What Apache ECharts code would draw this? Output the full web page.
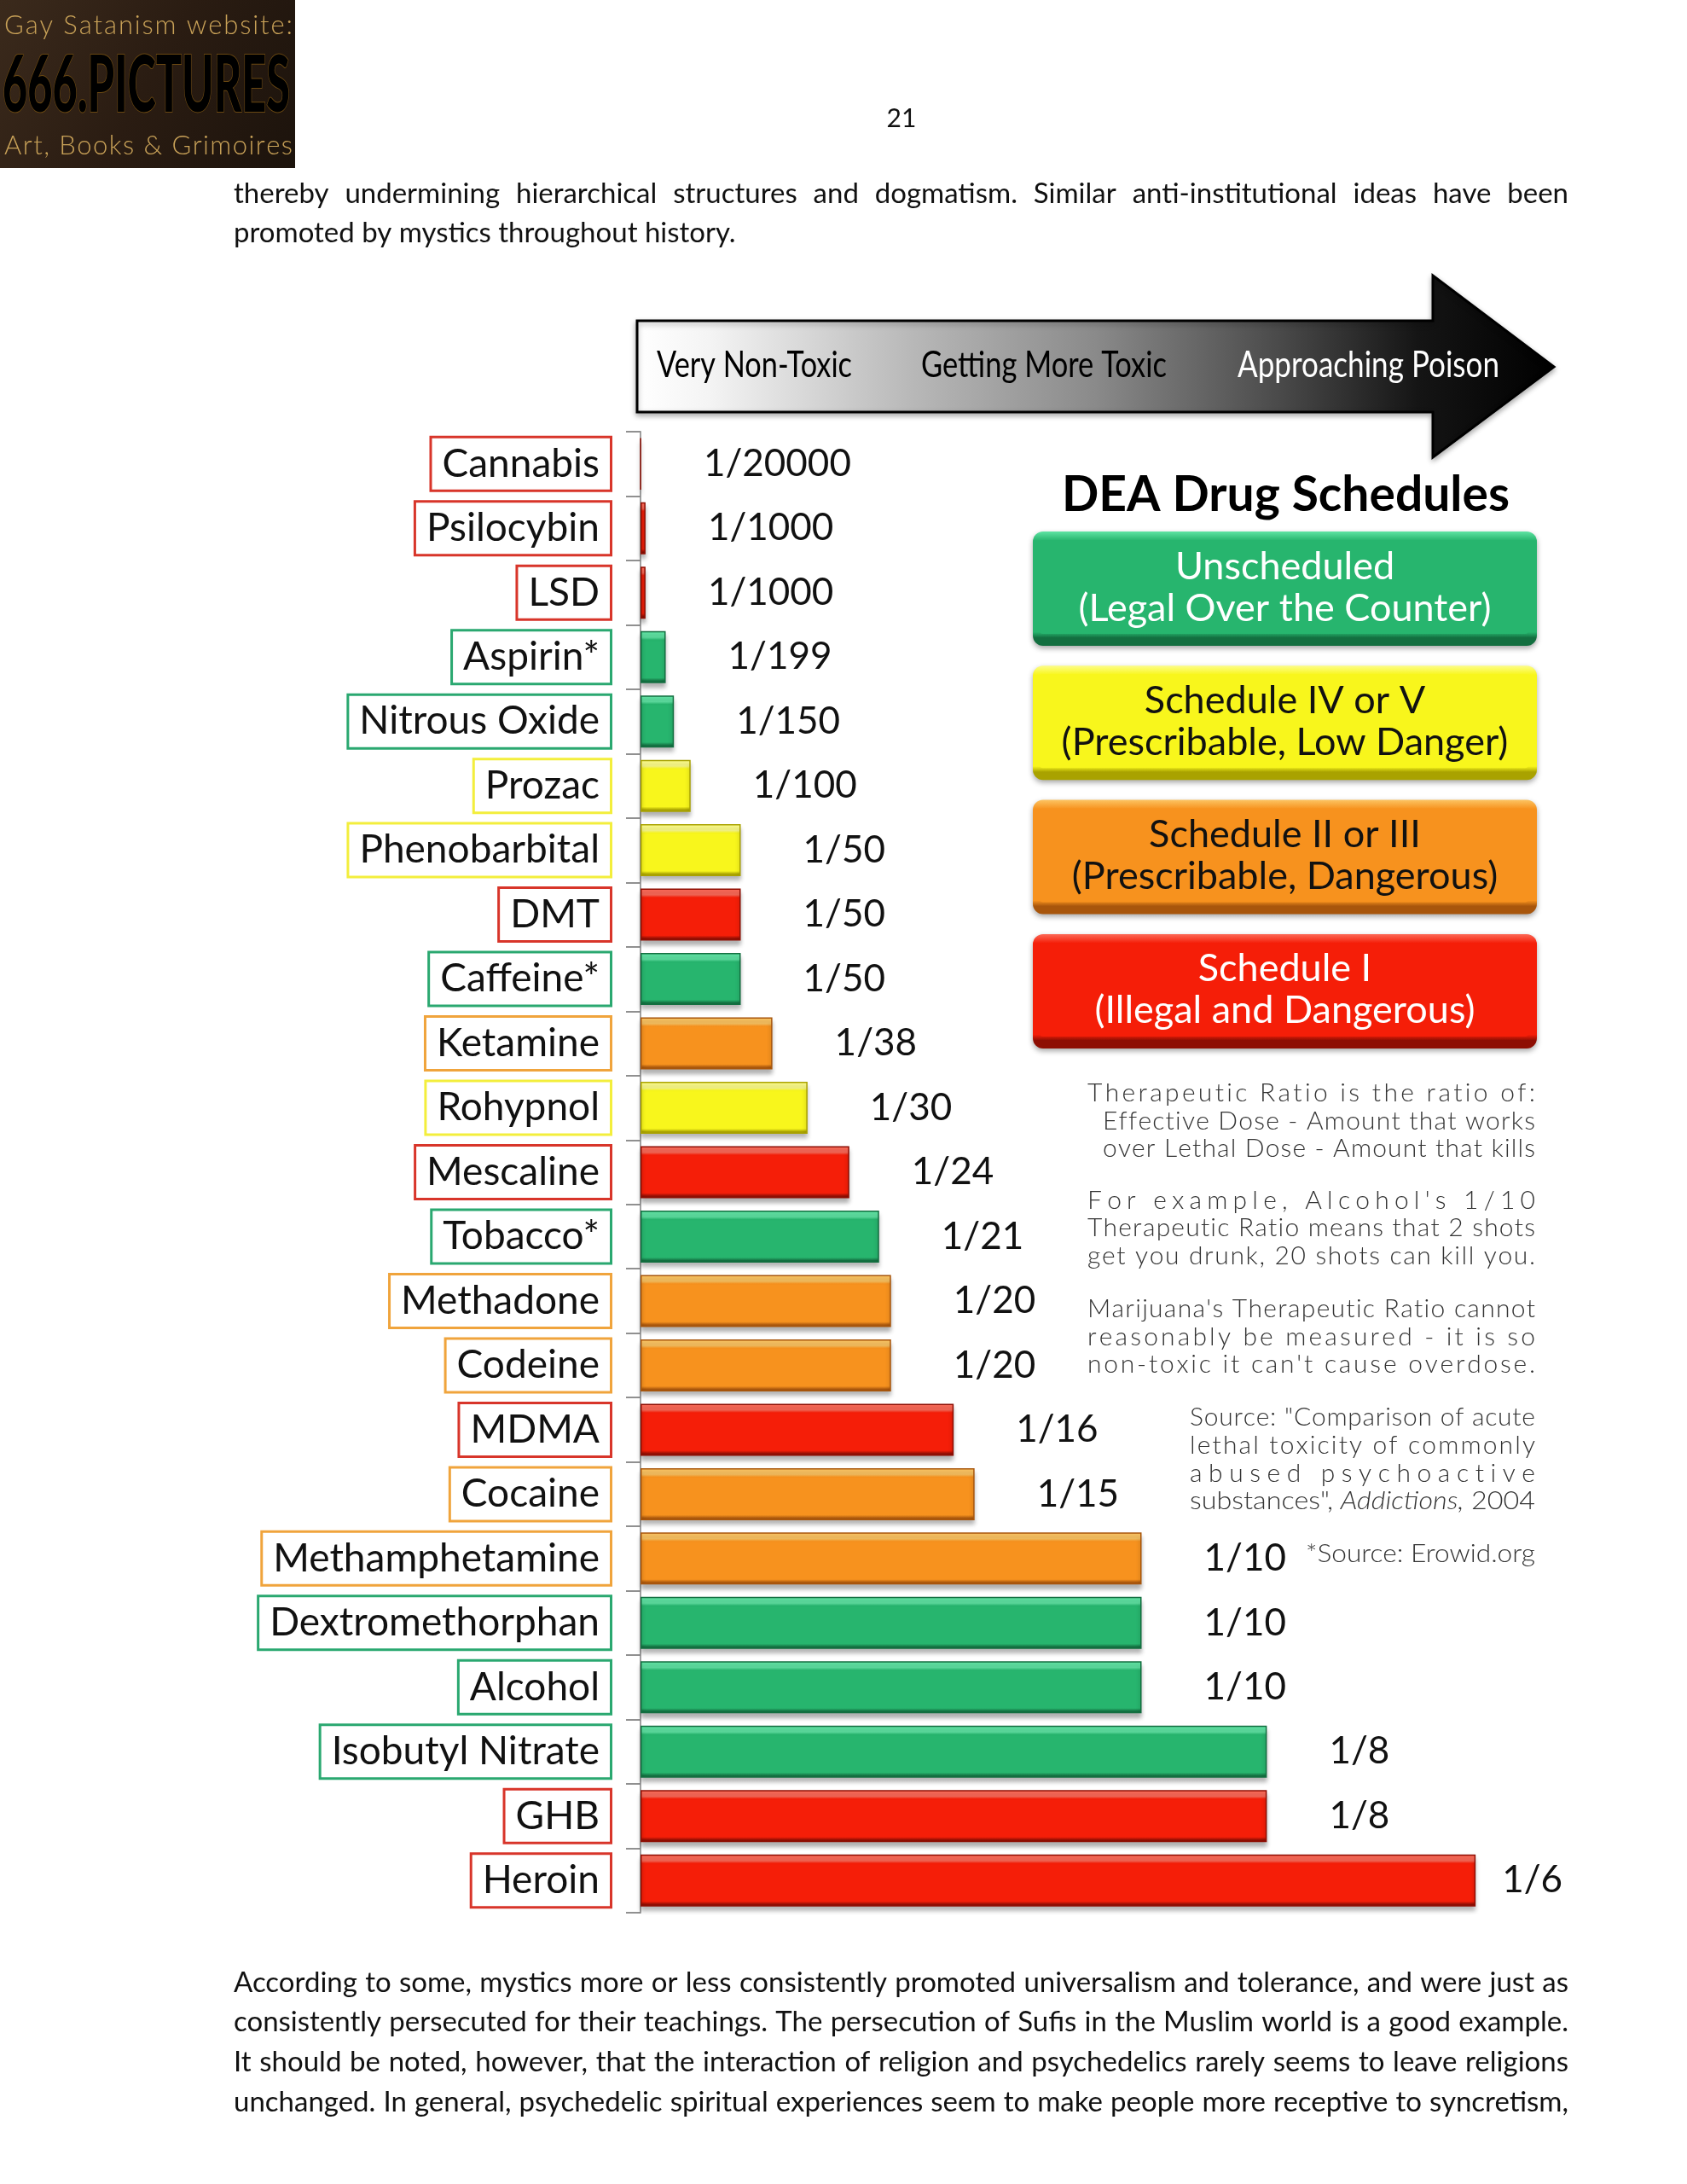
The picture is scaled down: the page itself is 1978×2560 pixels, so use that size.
<!DOCTYPE html>
<html>
<head>
<meta charset="utf-8">
<script src="https://cdn.jsdelivr.net/npm/echarts@6/dist/echarts.min.js"></script>
<style>html,body{margin:0;padding:0;background:#fff}#chart{width:1978px;height:2560px}</style>
</head>
<body>
<div id="chart"></div>
<script>
// ---------------- DATA ----------------
const categories = ['Cannabis','Psilocybin','LSD','Aspirin*','Nitrous Oxide','Prozac','Phenobarbital','DMT','Caffeine*','Ketamine','Rohypnol','Mescaline','Tobacco*','Methadone','Codeine','MDMA','Cocaine','Methamphetamine','Dextromethorphan','Alcohol','Isobutyl Nitrate','GHB','Heroin'];
// therapeutic ratio denominators (ratio = 1/N)
const denominators = [20000,1000,1000,199,150,100,50,50,50,38,30,24,21,20,20,16,15,10,10,10,8,8,6];
// DEA schedule of each drug: U = unscheduled, IV = IV or V, II = II or III, I = Schedule I
const schedules = ['I','I','I','U','U','IV','IV','I','U','II','IV','I','U','II','II','I','II','II','U','U','U','I','I'];
const scheduleKeys = ['U','IV','II','I'];
const scheduleLine1 = ['Unscheduled','Schedule IV or V','Schedule II or III','Schedule I'];
const scheduleLine2 = ['(Legal Over the Counter)','(Prescribable, Low Danger)','(Prescribable, Dangerous)','(Illegal and Dangerous)'];
const toxicityScale = ['Very Non-Toxic','Getting More Toxic','Approaching Poison'];
const chartTitle = 'DEA Drug Schedules';
const notes = [
  'Therapeutic Ratio is the ratio of:',
  'Effective Dose - Amount that works',
  'over Lethal Dose - Amount that kills',
  "For example, Alcohol's 1/10",
  'Therapeutic Ratio means that 2 shots',
  'get you drunk, 20 shots can kill you.',
  "Marijuana's Therapeutic Ratio cannot",
  'reasonably be measured - it is so',
  "non-toxic it can't cause overdose.",
  'Source: "Comparison of acute',
  'lethal toxicity of commonly',
  'abused psychoactive',
  'substances", Addictions, 2004',
  '*Source: Erowid.org'
];
const pageNumber = '21';
const paraTop = [
  'thereby undermining hierarchical structures and dogmatism. Similar anti-institutional ideas have been',
  'promoted by mystics throughout history.'
];
const paraBottom = [
  'According to some, mystics more or less consistently promoted universalism and tolerance, and were just as',
  'consistently persecuted for their teachings. The persecution of Sufis in the Muslim world is a good example.',
  'It should be noted, however, that the interaction of religion and psychedelics rarely seems to leave religions',
  'unchanged. In general, psychedelic spiritual experiences seem to make people more receptive to syncretism,'
];
const logoLines = ['Gay Satanism website:','666.PICTURES','Art, Books & Grimoires'];

// ---------------- STYLE ----------------
const barColors = {
  U:  {light:'#5fe3a3', base:'#27b56e', dark:'#136f40'},
  IV: {light:'#fdfd8a', base:'#f8f61c', dark:'#a9a200'},
  II: {light:'#fcc462', base:'#f7921e', dark:'#a8560c'},
  I:  {light:'#fc6a58', base:'#f51e08', dark:'#8e0e03'}
};
const boxBorder = {U:'#2aa870', IV:'#f3ee3c', II:'#f0a43c', I:'#d8352a'};
const legendText = {U:'#ffffff', IV:'#111111', II:'#111111', I:'#ffffff'};

const chart = echarts.init(document.getElementById('chart'), null, {renderer:'canvas'});

const cv = document.createElement('canvas').getContext('2d');
function measure(t, o){
  cv.font = (o.fontStyle||'normal') + ' ' + (o.fontWeight||'normal') + ' ' + o.fontSize + 'px ' + o.fontFamily;
  return cv.measureText(t).width;
}
const graphics = [];
function txt(t, x, y, o, s){
  graphics.push({type:'text', x:x, y:y, scaleX:s||1, z:o.z||20, style:{
    text:t, fontSize:o.fontSize, fontFamily:o.fontFamily, fontWeight:o.fontWeight||'normal',
    fontStyle:o.fontStyle||'normal', fill:o.fill||'#111', align:'left', verticalAlign:'middle',
    stroke:o.stroke, lineWidth:o.lineWidth||0, shadowColor:o.shadowColor, shadowBlur:o.shadowBlur||0
  }});
}
// place a line of text between x0 and x1
function line(t, x0, x1, y, o){
  const sc = o.scale || 1, mode = o.mode || 'word';
  if (mode === 'fit') { txt(t, x0, y, o, (x1-x0)/measure(t,o)); return; }
  if (mode === 'left') { txt(t, x0, y, o, sc); return; }
  if (mode === 'right') { txt(t, x1 - measure(t,o)*sc, y, o, sc); return; }
  if (mode === 'center') { txt(t, x0 - measure(t,o)*sc/2, y, o, sc); return; }
  const units = mode === 'char' ? Array.from(t) : t.split(' ');
  const styleOf = u => (o.italic && o.italic.indexOf(u) >= 0) ? Object.assign({}, o, {fontStyle:'italic'}) : o;
  let widths = units.map(u => measure(u, styleOf(u))*sc);
  const total = widths.reduce((a,b)=>a+b,0);
  const n = units.length;
  if (mode === 'wfit') {
    const sp = measure(' ', o)*sc;
    const s = (x1-x0)/(total + sp*(n-1));
    let x = x0;
    units.forEach((u,i)=>{ txt(u, x, y, styleOf(u), sc*s); x += (widths[i] + sp)*s; });
    return;
  }
  const minGap = mode === 'char' ? 0 : measure(' ', o)*sc*0.6;
  let gap = (x1-x0-total)/(n-1), s = sc;
  if (gap < minGap) { s = sc*(x1-x0-minGap*(n-1))/total; widths = widths.map(w=>w*s/sc); gap = minGap; }
  let x = x0;
  units.forEach((u,i)=>{ if (u.trim()) txt(u, x, y, styleOf(u), s); x += widths[i] + gap; });
}

// ---- logo ----
graphics.push({type:'rect', shape:{x:0,y:0,width:346,height:197}, z:1, style:{
  fill:new echarts.graphic.LinearGradient(0,0,1,1,[{offset:0,color:'#3b2a1c'},{offset:0.5,color:'#2a1c12'},{offset:1,color:'#1c130c'}])}});
const gold = {fontFamily:'Lato', fontWeight:'300', fontSize:31, fill:'#c9a258', mode:'char', z:30};
line(logoLines[0], 5, 343, 30, gold);
line(logoLines[1], 3, 340, 101, {fontFamily:'Lato', fontWeight:'900', fontSize:92, mode:'fit', z:30,
  fill:new echarts.graphic.LinearGradient(0,0,0,1,[{offset:0,color:'#fff6c4'},{offset:0.45,color:'#f0c868'},{offset:1,color:'#b07a22'}]),
  stroke:'#6a4812', lineWidth:2, shadowColor:'rgba(255,200,80,0.7)', shadowBlur:12});
line(logoLines[2], 5, 343, 171, gold);

// ---- page text ----
const body = {fontFamily:'Lato', fontSize:33, fill:'#111', scale:1.0};
txt(pageNumber, 1057 - measure(pageNumber, {fontFamily:'Lato',fontSize:30})/2, 139, {fontFamily:'Lato', fontSize:30, fill:'#111'});
line(paraTop[0], 274, 1839, 227, body);
line(paraTop[1], 274, 1839, 273, Object.assign({}, body, {mode:'left'}));
paraBottom.forEach((t,i)=> line(t, 274, 1839, 2324 + i*46.7, body));

// ---- toxicity arrow ----
graphics.push({type:'polygon', z:5, shape:{points:[[747,376],[1680,376],[1680,323],[1822,430],[1680,536],[1680,483],[747,483]]},
  style:{fill:new echarts.graphic.LinearGradient(0,0,1,0,[
    {offset:0,color:'#ffffff'},{offset:0.08,color:'#f4f4f4'},{offset:0.3,color:'#b8b8b8'},{offset:0.5,color:'#8a8a8a'},
    {offset:0.7,color:'#4a4a4a'},{offset:0.85,color:'#151515'},{offset:1,color:'#000'}]),
    stroke:'#000', lineWidth:3, shadowColor:'rgba(0,0,0,0.3)', shadowBlur:6, shadowOffsetY:3}});
const arrowTxt = {fontFamily:'Lato', fontSize:42, mode:'fit', z:30};
line(toxicityScale[0], 770, 999, 428, Object.assign({}, arrowTxt, {fill:'#000'}));
line(toxicityScale[1], 1080, 1368, 428, Object.assign({}, arrowTxt, {fill:'#000'}));
line(toxicityScale[2], 1451, 1758, 428, Object.assign({}, arrowTxt, {fill:'#fff'}));

// ---- legend title and boxes ----
line(chartTitle, 1245, 1770, 580, {fontFamily:'Lato', fontWeight:'bold', fontSize:58, mode:'fit', fill:'#000'});
const legendLeft = 1211, legendW = 591, legendH = 134;
scheduleKeys.forEach((k,i)=>{
  const top = 623 + i*157.3;
  const c = barColors[k];
  graphics.push({type:'rect', z:6, shape:{x:legendLeft, y:top, width:legendW, height:legendH, r:12},
    style:{fill:new echarts.graphic.LinearGradient(0,0,0,1,[
      {offset:0,color:c.light},{offset:0.08,color:c.base},{offset:0.88,color:c.base},{offset:0.93,color:c.dark},{offset:1,color:c.dark}]),
      shadowColor:'rgba(0,0,0,0.35)', shadowBlur:6, shadowOffsetY:3}});
  graphics.push({type:'rect', z:7, shape:{x:legendLeft+8, y:top+10, width:legendW-18, height:legendH-24, r:4},
    style:{fill:c.base}});
  const lo = {fontFamily:'Lato', fontSize:45, fill:legendText[k], mode:'center', z:30};
  line(scheduleLine1[i], legendLeft+legendW/2, 0, top+41, lo);
  line(scheduleLine2[i], legendLeft+legendW/2, 0, top+90, lo);
});

// ---- notes ----
const nt = {fontFamily:'Lato', fontWeight:'300', fontSize:30, fill:'#333'};
const noteLayout = [
  [1275,1800,1281,'char'],[1293,1800,1314,'char'],[1293,1800,1346,'char'],
  [1275,1800,1407,'char'],[1275,1800,1439,'char'],[1275,1800,1472,'char'],
  [1275,1800,1534,'char'],[1275,1800,1567,'char'],[1275,1800,1599,'char'],
  [1395,1800,1661,'char'],[1395,1800,1694,'char'],[1395,1800,1727,'char'],[1395,1800,1759,'wfit'],
  [1531,1800,1821,'fit']
];
notes.forEach((t,i)=>{
  const L = noteLayout[i];
  line(t, L[0], L[1], L[2], Object.assign({}, nt, {mode:L[3], italic:['Addictions,']}));
});

// ---- bar chart ----
const barData = denominators.map((d,i)=>{
  const c = barColors[schedules[i]];
  return {
    value: 1/d,
    itemStyle:{
      color:new echarts.graphic.LinearGradient(0,0,0,1,[
        {offset:0,color:c.light},{offset:0.12,color:c.light},{offset:0.17,color:c.base},
        {offset:0.9,color:c.base},{offset:0.96,color:c.dark},{offset:1,color:c.dark}]),
      borderColor:c.dark, borderWidth:1.5
    },
    label:{distance: i === denominators.length-1 ? 31 : 73}
  };
});
const rich = {};
scheduleKeys.forEach(k=>{
  rich['s'+k] = {fontFamily:'Lato', fontSize:46, lineHeight:48, color:'#111', backgroundColor:'#fff',
    borderColor:boxBorder[k], borderWidth:3, padding:[7,12,7,12]};
});

chart.setOption({
  backgroundColor:'#fff',
  animation:false,
  grid:{left:751, top:506, width:1175, height:1736, containLabel:false},
  xAxis:{type:'value', min:0, max:0.2, show:false},
  yAxis:{
    type:'category', data:categories, inverse:true,
    axisLine:{show:true, lineStyle:{color:'#a0a0a0', width:2}},
    axisTick:{show:true, length:17, lineStyle:{color:'#909090', width:2}},
    splitLine:{show:false},
    axisLabel:{margin:36, formatter:(v,i)=>'{s'+schedules[i]+'|'+v+'}', rich:rich}
  },
  series:[{
    type:'bar', data:barData, barWidth:61, barCategoryGap:'20%',
    itemStyle:{shadowColor:'rgba(0,0,0,0.3)', shadowBlur:5, shadowOffsetY:5},
    label:{show:true, position:'right', fontFamily:'Lato', fontSize:44, color:'#111',
      formatter:p=>'1/' + denominators[p.dataIndex]}
  }],
  graphic:graphics
});
</script>
</body>
</html>
